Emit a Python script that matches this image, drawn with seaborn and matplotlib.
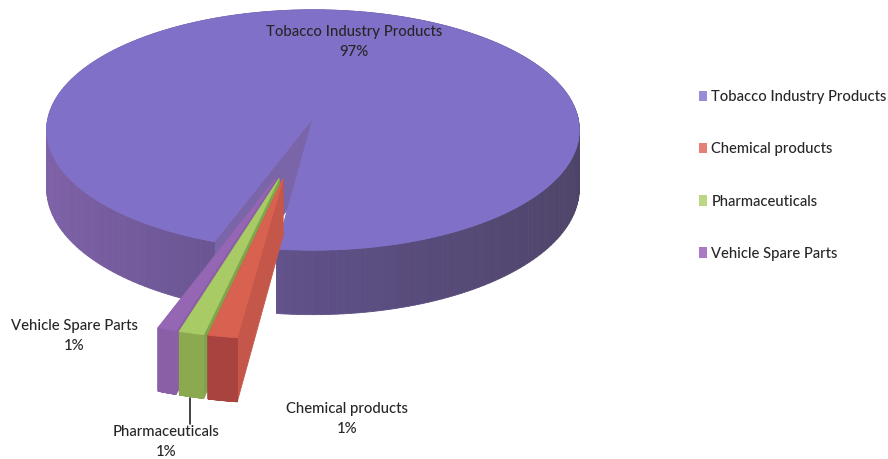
import numpy as np
import matplotlib
matplotlib.use("Agg")
import matplotlib.pyplot as plt
from matplotlib.patches import Patch
import seaborn as sns

# Data
categories = ['Tobacco Industry Products', 'Chemical products', 'Pharmaceuticals', 'Vehicle Spare Parts']
shares = [96.5, 1.4, 1.2, 0.9]
share_labels = ['97%', '1%', '1%', '1%']
explode = [0, 0.5, 0.5, 0.5]

# Colours: top surface, wall facing us, legend swatch
top_colors = ['#8170C8', '#D8614F', '#A8CB66', '#9566B4']
front_colors = ['#7F61A8', '#A8433F', '#8BA94F', '#8A5FA6']
wall_colors = ['#7A65A8', '#C4574A', '#7FA449', '#8A5FA6']
swatch_colors = ['#9A8AD8', '#E57F78', '#BBD783', '#A97BC4']

# Perspective set-up, in pixels
CX, CY, RX, RY, K = 313, 118, 265, 119, 0.1
DEPTH = 58
SMALL_DEPTH = 54
SMALL_R = 1.08
FAN = 0.35
TEXT = '#262626'

sns.set_theme(style='white')
plt.rcParams['font.family'] = ['Lato', 'DejaVu Sans']


def project(x, y, drop=0.0):
    s = 1 / (1 + K * y)
    return CX + RX * x * s, CY - RY * y * s + drop * s


def quad(ax, x0, y0, x1, y1, depth, color, zorder):
    top0, top1 = project(x0, y0), project(x1, y1)
    bot1, bot0 = project(x1, y1, depth), project(x0, y0, depth)
    xs = [top0[0], top1[0], bot1[0], bot0[0]]
    ys = [top0[1], top1[1], bot1[1], bot0[1]]
    ax.fill(xs, ys, color=color, lw=0.6, zorder=zorder)


def draw_solid(ax, center, radius, theta1, theta2, depth, top, front, wall, zorder, shade=False):
    cx, cy = center
    t = np.radians(np.linspace(theta1, theta2, 240))
    x = cx + radius * np.cos(t)
    y = cy + radius * np.sin(t)
    # cut faces first
    quad(ax, cx, cy, x[0], y[0], depth, wall, zorder)
    quad(ax, cx, cy, x[-1], y[-1], depth, wall, zorder)
    # outer rim, darker towards the right on the big slice
    ramp = sns.blend_palette([front, '#5E5086', '#4E4468'], 101)
    for i in range(len(t) - 1):
        color = ramp[int(np.clip((x[i] + 1) / 2, 0, 1) * 100)] if shade else front
        quad(ax, x[i], y[i], x[i + 1], y[i + 1], depth, color, zorder)
    px, py = project(np.r_[cx, x], np.r_[cy, y])
    ax.fill(px, py, color=top, lw=0.6, zorder=zorder + 1)


fig = plt.figure(figsize=(8.88, 4.59), dpi=100)
ax = fig.add_axes([0, 0, 1, 1])

# Slice geometry comes from the pie itself, then gets projected
wedges, _ = ax.pie(shares, explode=explode, startangle=250.3, counterclock=False)
geometry = [(w.center, w.r, w.theta1, w.theta2) for w in wedges]
for w in wedges:
    w.remove()
ax.set_aspect('auto')
ax.set_xlim(0, 888)
ax.set_ylim(459, 0)
ax.axis('off')

c, r, t1, t2 = geometry[0]
draw_solid(ax, c, r, t1, t2, DEPTH, top_colors[0], front_colors[0], wall_colors[0], 1, shade=True)

# small slices move out nearly as one block
group = np.mean([g[0] for g in geometry[1:]], axis=0)
# back to front: vehicle, pharma, chemical
for idx, z in [(3, 3), (2, 5), (1, 7)]:
    c, r, t1, t2 = geometry[idx]
    moved = group + FAN * (np.array(c) - group)
    draw_solid(ax, moved, r * SMALL_R, t1, t2, SMALL_DEPTH, top_colors[idx], front_colors[idx], wall_colors[idx], z)

# Data labels
label_pos = [(354, 42), (347, 419), (166, 442), (74, 336)]
for name, pct, (lx, ly) in zip(categories, share_labels, label_pos):
    ax.text(lx, ly, name + '\n' + pct, ha='center', va='center', fontsize=10.7, fontweight='medium',
            color=TEXT, linespacing=1.55, zorder=10)

# Leader line for Pharmaceuticals
ax.plot([190, 190], [398, 424], color='#222222', lw=1.2, zorder=9)

handles = [Patch(facecolor=c, edgecolor='none') for c in swatch_colors]
fig.legend(handles, categories, loc='upper left', bbox_to_anchor=(0.787, 0.804), frameon=False,
           prop={'size': 10.6, 'weight': 'medium'}, labelcolor=TEXT, handlelength=0.55, handleheight=0.7,
           handletextpad=0.3, labelspacing=2.6, borderpad=0, borderaxespad=0)

fig.savefig('out.png', dpi=100)
